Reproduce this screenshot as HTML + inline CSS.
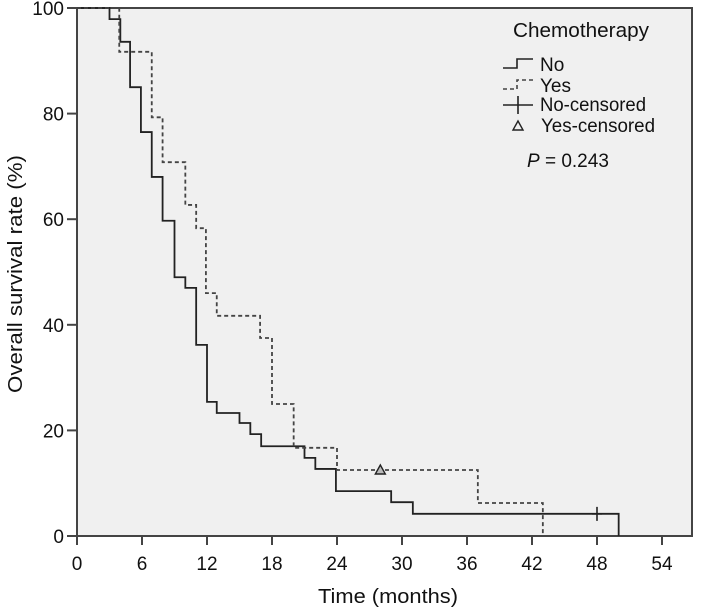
<!DOCTYPE html>
<html><head><meta charset="utf-8"><style>
body{margin:0;background:#fff}
svg{display:block;font-family:"Liberation Sans",Arial,sans-serif}
</style></head><body>
<svg id="chart" width="701" height="611">
<rect x="0" y="0" width="701" height="611" fill="#fff"/>
<rect x="77" y="8" width="615" height="528" fill="#f0f0f0" stroke="#444" stroke-width="2"/>
<g id="axes"></g>
<g id="series"></g>
<text x="388" y="603" font-size="20" text-anchor="middle" textLength="140" lengthAdjust="spacingAndGlyphs" fill="#111">Time (months)</text>
<text transform="translate(22,274) rotate(-90)" font-size="20" text-anchor="middle" textLength="238" lengthAdjust="spacingAndGlyphs" fill="#111">Overall survival rate (%)</text>
<g font-size="19" fill="#111">
<text x="513" y="37" font-size="20" textLength="136" lengthAdjust="spacingAndGlyphs">Chemotherapy</text>
<g><path d="M503 68 H517 V59 H533" fill="none" stroke="#222" stroke-width="1.6"/><text x="540" y="71">No</text></g>
<g><path d="M503 89 H517 V80 H533" fill="none" stroke="#444" stroke-width="1.6" stroke-dasharray="4,3"/><text x="540" y="92">Yes</text></g>
<g><path d="M503 105 H533 M518 96 V114" stroke="#222" stroke-width="1.6"/><text x="540" y="111" textLength="106" lengthAdjust="spacingAndGlyphs">No-censored</text></g>
<g><path d="M518 121 L523 130 L513 130 Z" fill="none" stroke="#222" stroke-width="1.4"/><text x="541" y="132" textLength="114" lengthAdjust="spacingAndGlyphs">Yes-censored</text></g>
<text x="527" y="167"><tspan font-style="italic">P</tspan> = 0.243</text>
</g>
</svg>
<script>
const xTicks=[0,6,12,18,24,30,36,42,48,54];
const yTicks=[0,20,40,60,80,100];
const noTimes=[0,3,4,4.9,5.9,6.9,7.9,9,10,11,12,12.9,15,16,17,21,22,23.9,29,31,50];
const noSurv=[100,97.9,93.6,85,76.5,68,59.7,49,47,36.2,25.4,23.3,21.4,19.3,17,14.8,12.7,8.5,6.4,4.2,0];
const noCensor=[[48,4.2]];
const yesTimes=[0,3.9,6.9,7.9,10,11,11.9,12.9,16.9,18,20,24,37,43];
const yesSurv=[100,91.7,79.3,70.8,62.7,58.3,46,41.7,37.5,25,16.7,12.5,6.25,0];
const yesCensor=[[28,12.5]];
const NS='http://www.w3.org/2000/svg';
const X=t=>77+t*65/6, Y=v=>536-v*5.28;
const axes=document.getElementById('axes'), ser=document.getElementById('series');
function mk(tag,attrs,parent){const e=document.createElementNS(NS,tag);for(const k in attrs)e.setAttribute(k,attrs[k]);parent.appendChild(e);return e;}
xTicks.forEach(t=>{
 const l=mk('line',{x1:X(t),x2:X(t),y1:536,y2:545,stroke:'#444','stroke-width':2},axes);
 
 
 const tx=mk('text',{x:X(t),y:570,'font-size':19,'text-anchor':'middle',fill:'#111'},axes);tx.textContent=t;
 
 
});
yTicks.forEach(v=>{
 const l=mk('line',{x1:67,x2:77,y1:Y(v),y2:Y(v),stroke:'#444','stroke-width':2},axes);
 
 
 const tx=mk('text',{x:64,y:Y(v)+7,'font-size':19,'text-anchor':'end',fill:'#111'},axes);tx.textContent=v;
 
 
});
function stepPath(ts,vs){let d='M'+X(ts[0])+' '+Y(vs[0]);for(let i=1;i<ts.length;i++){d+=' H'+X(ts[i])+' V'+Y(vs[i]);}return d;}
const pn=mk('path',{d:stepPath(noTimes,noSurv),fill:'none',stroke:'#222','stroke-width':1.8},ser);


const py=mk('path',{d:stepPath(yesTimes,yesSurv),fill:'none',stroke:'#444','stroke-width':1.8,'stroke-dasharray':'4,3'},ser);


noCensor.forEach(([t,v])=>{const c=mk('path',{d:`M${X(t)-5} ${Y(v)} H${X(t)+5} M${X(t)} ${Y(v)-7} V${Y(v)+7}`,stroke:'#222','stroke-width':1.6},ser);
 
 });
yesCensor.forEach(([t,v])=>{const c=mk('path',{d:`M${X(t)} ${Y(v)-5} L${X(t)+5} ${Y(v)+4} L${X(t)-5} ${Y(v)+4} Z`,fill:'#bbb',stroke:'#222','stroke-width':1.4},ser);
 
 });
</script>
</body></html>
